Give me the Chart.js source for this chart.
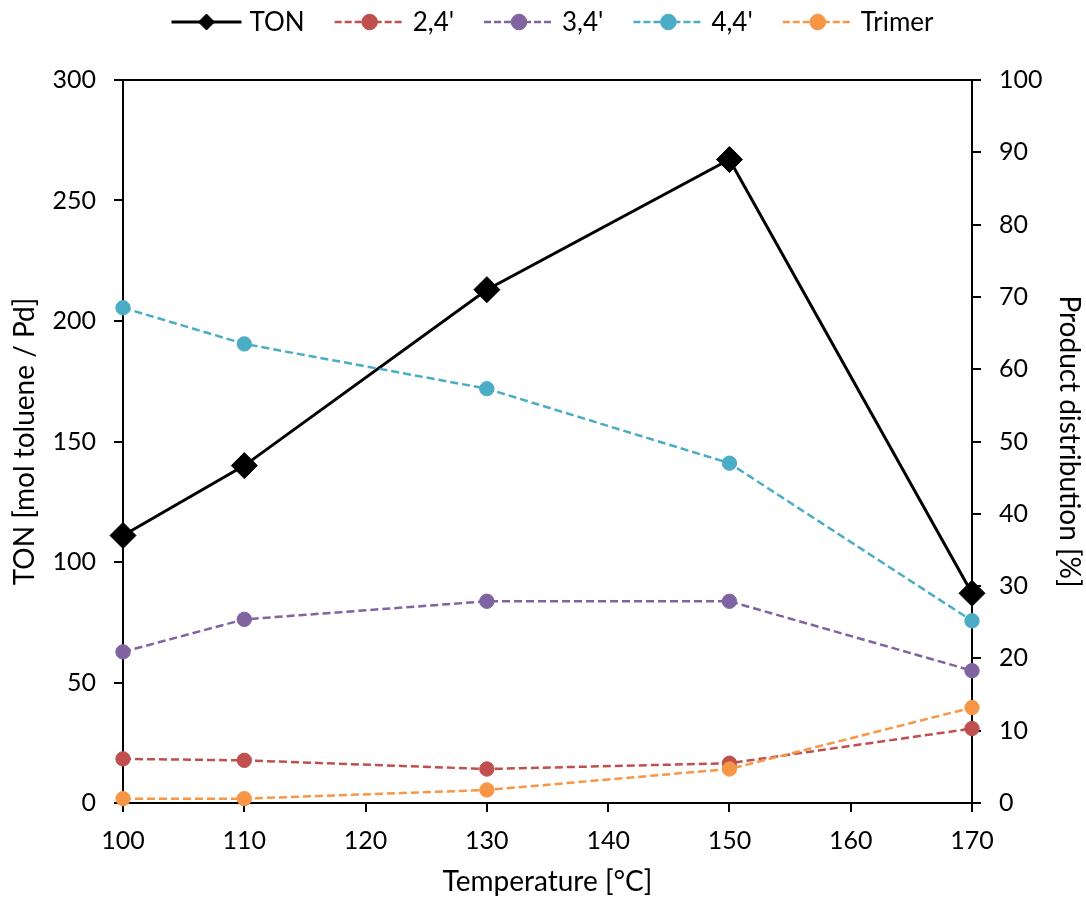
<!DOCTYPE html>
<html>
<head>
<meta charset="utf-8">
<script src="https://cdn.jsdelivr.net/npm/chart.js@4.4.1/dist/chart.umd.min.js"></script>
<style>
  html, body { margin: 0; padding: 0; background: #fff; }
  #wrap { width: 1086px; height: 903px; }
</style>
</head>
<body>
<div id="wrap"><canvas id="c" width="1086" height="903"></canvas></div>
<script>
// Reaction temperature (°C)
const temperatures = [100, 110, 130, 150, 170];
// Turnover number, left axis
const ton = [111, 140, 213, 267, 87];
// Product distribution (%), right axis
const dist24 = [6.1, 5.9, 4.7, 5.5, 10.3];
const dist34 = [20.9, 25.4, 27.9, 27.9, 18.3];
const dist44 = [68.5, 63.5, 57.3, 47.0, 25.2];
const trimer = [0.6, 0.6, 1.8, 4.7, 13.2];
const seriesNames = ['TON', "2,4'", "3,4'", "4,4'", 'Trimer'];
// Axis ranges / tick steps
const xRange = [100, 170, 10];
const tonRange = [0, 300, 50];
const distRange = [0, 100, 10];

const FONT = 'Lato';
const toPoints = vals => temperatures.map((t, i) => ({ x: t, y: vals[i] }));

function dashedSeries(label, vals, color, order) {
  return {
    label, data: toPoints(vals), yAxisID: 'y2', order,
    borderColor: color, backgroundColor: color, borderWidth: 2.5, borderDash: [8, 4],
    pointStyle: 'circle', pointRadius: 7.2, pointBorderWidth: 1,
    pointBackgroundColor: color, pointBorderColor: color,
    pointHoverRadius: 7.2, tension: 0, clip: false
  };
}

// Top frame line of the plot area
const frameTop = {
  id: 'frameTop',
  beforeDatasetsDraw(chart) {
    const { ctx, chartArea: { left, right, top } } = chart;
    ctx.save();
    ctx.strokeStyle = '#000';
    ctx.lineWidth = 2;
    ctx.beginPath();
    ctx.moveTo(left, top);
    ctx.lineTo(right, top);
    ctx.stroke();
    ctx.restore();
  }
};

// Legend with line sample + marker for each series
const lineLegend = {
  id: 'lineLegend',
  afterDraw(chart) {
    const ctx = chart.ctx;
    ctx.save();
    ctx.font = '26px ' + FONT;
    const sampleW = 70, textGap = 8, itemGap = 30, y = 22;
    const items = chart.data.datasets.map(ds => ({ ds, w: sampleW + textGap + ctx.measureText(ds.label).width }));
    const total = items.reduce((s, it) => s + it.w, 0) + itemGap * (items.length - 1);
    let x = (chart.chartArea.left + chart.chartArea.right) / 2 + 5 - total / 2;
    items.forEach(({ ds, w }) => {
      ctx.strokeStyle = ds.borderColor;
      ctx.lineWidth = ds.borderWidth;
      ctx.setLineDash(ds.borderDash ? [7, 3] : []);
      ctx.beginPath();
      ctx.moveTo(x, y);
      ctx.lineTo(x + sampleW, y);
      ctx.stroke();
      ctx.setLineDash([]);
      const cx = x + sampleW / 2;
      ctx.fillStyle = ds.pointBackgroundColor;
      ctx.strokeStyle = ds.pointBorderColor;
      ctx.lineWidth = 1;
      ctx.beginPath();
      if (ds.pointStyle === 'rectRot') {
        const r = 8;
        ctx.moveTo(cx, y - r); ctx.lineTo(cx + r, y); ctx.lineTo(cx, y + r); ctx.lineTo(cx - r, y);
        ctx.closePath();
      } else {
        ctx.arc(cx, y, 7.8, 0, Math.PI * 2);
      }
      ctx.fill();
      ctx.stroke();
      ctx.fillStyle = '#000';
      ctx.textAlign = 'left';
      ctx.textBaseline = 'middle';
      ctx.fillText(ds.label, x + sampleW + textGap, y + 1);
      x += w + itemGap;
    });
    ctx.restore();
  }
};

const axisCommon = (min, max, step, pad) => ({
  min, max,
  ticks: { stepSize: step, padding: pad, color: '#000', font: { family: FONT, size: 25 } },
  grid: { display: true, drawOnChartArea: false, drawTicks: true, tickLength: 9, color: '#000', lineWidth: 2 },
  border: { display: true, color: '#000', width: 2 }
});

const titleFont = { family: FONT, size: 28 };

new Chart(document.getElementById('c'), {
  type: 'line',
  data: {
    datasets: [
      {
        label: seriesNames[0], data: toPoints(ton), yAxisID: 'y', order: 5,
        borderColor: '#000', backgroundColor: '#000', borderWidth: 3,
        pointStyle: 'rectRot', pointRadius: 13, pointBorderWidth: 1,
        pointBackgroundColor: '#000', pointBorderColor: '#000',
        pointHoverRadius: 13, tension: 0, clip: false
      },
      dashedSeries(seriesNames[1], dist24, '#C0504D', 4),
      dashedSeries(seriesNames[2], dist34, '#8064A2', 3),
      dashedSeries(seriesNames[3], dist44, '#4BACC6', 2),
      dashedSeries(seriesNames[4], trimer, '#F79646', 1)
    ]
  },
  options: {
    responsive: false,
    animation: false,
    devicePixelRatio: 1,
    layout: { padding: { top: 80, left: 0, right: 0, bottom: 0 } },
    plugins: { legend: { display: false }, tooltip: { enabled: false } },
    scales: {
      x: Object.assign(axisCommon(xRange[0], xRange[1], xRange[2], 14), {
        type: 'linear', position: 'bottom',
        title: { display: true, text: 'Temperature [°C]', color: '#000', font: titleFont, padding: { top: 0, bottom: 4 } },
        afterFit(s) { s.height = 100; }
      }),
      y: Object.assign(axisCommon(tonRange[0], tonRange[1], tonRange[2], 18), {
        type: 'linear', position: 'left',
        title: { display: true, text: 'TON [mol toluene / Pd]', color: '#000', font: titleFont, padding: { top: 8, bottom: 0 } },
        afterFit(s) { s.width = 123; }
      }),
      y2: Object.assign(axisCommon(distRange[0], distRange[1], distRange[2], 18), {
        type: 'linear', position: 'right',
        title: { display: true, text: 'Product distribution [%]', color: '#000', font: titleFont, padding: { top: 0, bottom: 0 } },
        afterFit(s) { s.width = 114; }
      })
    }
  },
  plugins: [frameTop, lineLegend]
});
</script>
</body>
</html>
